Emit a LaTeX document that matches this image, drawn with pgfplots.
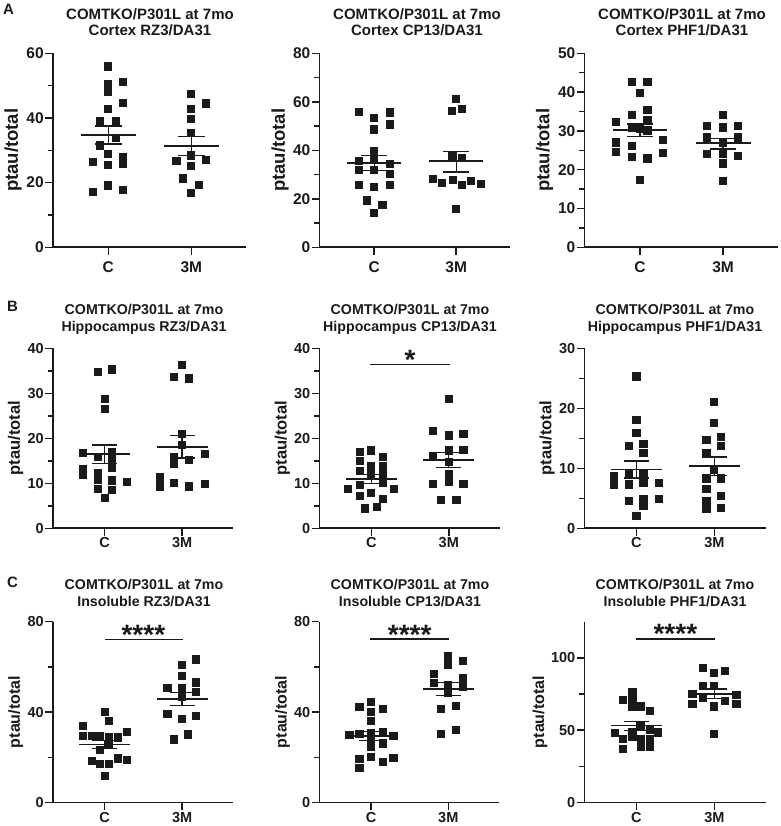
\documentclass[border=0pt]{standalone}
\usepackage{pgfplots}
\pgfplotsset{compat=1.18}
\usepackage{fontspec}
\setmainfont{Liberation Sans}
\definecolor{ink}{RGB}{26,26,26}
\pgfplotsset{
  panel/.style={
    scale only axis,
    anchor=south west,
    axis lines=left,
    axis line style={-, line width=1.6pt, ink},
    xmin=-0.67, xmax=1.66, ymin=0,
    xtick={0,1}, xticklabels={C,3M},
    tick align=outside,
    major tick length=7.5pt,
    minor tick length=5pt,
    tick style={line width=1.5pt, ink},
    /pgf/number format/assume math mode=true,
    yticklabel style={xshift=2pt},
    ylabel={ptau/total},
    clip=false,
    unbounded coords=jump,
    ylabel style={at={(axis description cs:-0.205,0.5)}, anchor=center, inner sep=0pt},
  },
  rowA/.style={panel, height=194pt,
    ticklabel style={font=\bfseries\fontsize{15.5}{17}\selectfont, text=ink},
    xticklabel style={yshift=-3pt},
    ylabel style={font=\bfseries\fontsize{18.5}{21}\selectfont, text=ink}},
  rowB/.style={panel, height=180pt,
    ticklabel style={font=\bfseries\fontsize{14.5}{16}\selectfont, text=ink},
    xticklabel style={yshift=1.5pt},
    ylabel style={font=\bfseries\fontsize{16.5}{19}\selectfont, text=ink}},
  rowC/.style={panel, height=180.8pt,
    ticklabel style={font=\bfseries\fontsize{14.5}{16}\selectfont, text=ink},
    xticklabel style={yshift=1.5pt},
    ylabel style={font=\bfseries\fontsize{16}{19}\selectfont, text=ink}},
  pts/.style={only marks, mark=square*, mark size=3.6pt, ink, mark options={fill=ink, draw=ink, line width=0pt}},
  meanl/.style={ink, line width=1.8pt, mark=none},
  seml/.style={ink, line width=1.3pt, mark=none},
  sigl/.style={ink, line width=1.5pt, mark=none},
}
\newcommand{\ttlfontA}{\bfseries\fontsize{15}{17}\selectfont}
\newcommand{\ttlfontB}{\bfseries\fontsize{14.2}{17}\selectfont}
\newcommand{\starfont}{\bfseries\fontsize{28}{28}\selectfont}
\begin{document}
\begin{tikzpicture}
\useasboundingbox (0pt,0pt) rectangle (780pt,826pt);

% ---------------- Row A ----------------
\begin{axis}[rowA, at={(52.7pt,578.7pt)}, width=193.5pt, ymax=60, ytick={0,20,40,60}, minor ytick={10,30,50}]
\addplot[pts] coordinates {(0,55.9) (0,50.5) (0.18,51.2) (0,48.0) (0.18,44.6) (0,42.7) (-0.10,39.0) (0.09,39.0) (0.09,33.8) (-0.10,31.5) (0,28.8) (0.18,28.0) (0.18,25.8) (-0.18,26.4) (0,25.5) (0,19.1) (-0.18,17.1) (0.18,17.6)};
\addplot[pts] coordinates {(1,47.3) (1.18,44.5) (1,42.7) (1,39.7) (1,35.3) (1,28.4) (0.82,26.7) (1.18,27.0) (1,25.2) (0.90,21.3) (1.09,19.3) (1,16.7)};
\addplot[meanl] coordinates {(-0.33,34.7) (0.33,34.7) (0,nan) (0.67,31.3) (1.33,31.3)};
\addplot[seml] coordinates {(0,31.9) (0,37.5) (0,nan) (-0.16,31.9) (0.16,31.9) (0,nan) (-0.16,37.5) (0.16,37.5) (0,nan) (1,28.4) (1,34.2) (0,nan) (0.84,28.4) (1.16,28.4) (0,nan) (0.84,34.2) (1.16,34.2)};
\end{axis}

\begin{axis}[rowA, at={(319.3pt,578.7pt)}, width=191pt, ymax=80, ytick={0,20,40,60,80}, minor ytick={10,30,50,70}]
\addplot[pts] coordinates {(-0.19,55.8) (0.19,55.6) (0,53.2) (0,48.6) (0.19,50.6) (0,39.6) (0,36.6) (-0.19,35.6) (0.19,34.4) (-0.19,31.8) (0,31.8) (0.19,30.1) (-0.19,25.7) (0.19,25.7) (0,24.9) (-0.09,19.3) (0.10,17.5) (0,14.1)};
\addplot[pts] coordinates {(1,61.3) (0.95,56.2) (1.07,56.9) (0.95,37.6) (1.07,36.9) (0.72,28.2) (0.83,26.5) (0.96,27.9) (1.07,25.8) (1.18,27.2) (1.30,26.1) (1,15.7)};
\addplot[meanl] coordinates {(-0.33,34.8) (0.33,34.8) (0,nan) (0.67,35.5) (1.33,35.5)};
\addplot[seml] coordinates {(0,31.8) (0,37.8) (0,nan) (-0.16,31.8) (0.16,31.8) (0,nan) (-0.16,37.8) (0.16,37.8) (0,nan) (1,31.1) (1,39.6) (0,nan) (0.84,31.1) (1.16,31.1) (0,nan) (0.84,39.6) (1.16,39.6)};
\end{axis}

\begin{axis}[rowA, at={(584.3pt,578.7pt)}, width=193.7pt, ymax=50, ytick={0,10,20,30,40,50}, minor ytick={5,15,25,35,45}]
\addplot[pts] coordinates {(-0.10,42.7) (0.09,42.5) (0,39.7) (0.09,35.4) (-0.10,34.1) (-0.29,32.2) (0.09,32.8) (-0.10,30.8) (0,30.4) (-0.29,27.0) (0.09,30.1) (0.28,27.7) (-0.10,26.2) (-0.29,24.5) (0.28,24.2) (-0.10,23.2) (0.09,22.9) (0,17.4)};
\addplot[pts] coordinates {(1,34.1) (0.81,31.3) (1,30.9) (1.18,31.3) (0.81,28.3) (1.18,28.3) (1,26.8) (0.81,24.0) (1,24.1) (1.18,23.6) (1,21.6) (1,17.1)};
\addplot[meanl] coordinates {(-0.33,30.2) (0.33,30.2) (0,nan) (0.67,26.8) (1.33,26.8)};
\addplot[seml] coordinates {(0,28.5) (0,31.8) (0,nan) (-0.16,28.5) (0.16,28.5) (0,nan) (-0.16,31.8) (0.16,31.8) (0,nan) (1,25.3) (1,28.1) (0,nan) (0.84,25.3) (1.16,25.3) (0,nan) (0.84,28.1) (1.16,28.1)};
\end{axis}

% ---------------- Row B ----------------
\begin{axis}[rowB, at={(52.7pt,297.7pt)}, width=180.6pt, ymax=40, ytick={0,10,20,30,40}, minor ytick={5,15,25,35}]
\addplot[pts] coordinates {(-0.09,34.8) (0.10,35.3) (0,28.7) (0,26.5) (-0.28,16.8) (0.10,17.0) (-0.09,15.9) (0.10,15.2) (0.10,13.5) (-0.28,13.2) (-0.28,11.9) (-0.09,12.2) (-0.09,10.7) (0.10,10.6) (0.29,10.2) (-0.09,8.7) (0.10,8.5) (0,6.8)};
\addplot[pts] coordinates {(1,36.3) (0.90,33.7) (1.09,33.3) (1,21.0) (1,18.5) (0.90,15.9) (0.90,14.2) (1.09,15.2) (1.29,16.5) (0.71,11.3) (0.71,9.3) (0.90,10.1) (1.09,9.3) (1.29,9.8)};
\addplot[meanl] coordinates {(-0.33,16.5) (0.33,16.5) (0,nan) (0.67,18.1) (1.33,18.1)};
\addplot[seml] coordinates {(0,14.4) (0,18.5) (0,nan) (-0.16,14.4) (0.16,14.4) (0,nan) (-0.16,18.5) (0.16,18.5) (0,nan) (1,15.6) (1,20.6) (0,nan) (0.84,15.6) (1.16,15.6) (0,nan) (0.84,20.6) (1.16,20.6)};
\end{axis}

\begin{axis}[rowB, at={(319.3pt,297.7pt)}, width=180.7pt, ymax=40, ytick={0,10,20,30,40}, minor ytick={5,15,25,35}]
\addplot[pts] coordinates {(-0.15,17.0) (0,17.3) (-0.15,15.0) (0.15,15.8) (0,13.9) (0.15,13.9) (-0.15,12.7) (0,12.1) (0.15,12.1) (-0.15,9.6) (0.15,10.0) (-0.30,8.7) (0.29,8.7) (0,7.8) (-0.15,7.2) (0.15,6.5) (-0.08,4.4) (0.07,4.8)};
\addplot[pts] coordinates {(1,28.7) (0.80,21.7) (1,20.6) (1.19,20.9) (1,17.3) (1.19,17.4) (0.80,16.1) (1,14.8) (1,12.1) (0.80,9.9) (1,10.2) (1.19,9.9) (0.90,6.3) (1.10,6.3)};
\addplot[meanl] coordinates {(-0.33,10.95) (0.33,10.95) (0,nan) (0.67,15.2) (1.33,15.2)};
\addplot[seml] coordinates {(0,10.0) (0,11.9) (0,nan) (-0.16,10.0) (0.16,10.0) (0,nan) (-0.16,11.9) (0.16,11.9) (0,nan) (1,13.5) (1,16.9) (0,nan) (0.84,13.5) (1.16,13.5) (0,nan) (0.84,16.9) (1.16,16.9)};
\addplot[sigl] coordinates {(-0.02,36.4) (1.01,36.4)};
\node[anchor=base, yshift=-5pt, font=\starfont, text=ink, inner sep=0pt] at (axis cs:0.5,36.4) {*};
\end{axis}

\begin{axis}[rowB, at={(584.3pt,297.7pt)}, width=181.4pt, ymax=30, ytick={0,10,20,30}, minor ytick={5,15,25}]
\addplot[pts] coordinates {(0,25.3) (0,18.0) (0,15.9) (-0.10,13.7) (0.09,14.1) (0.09,12.5) (-0.29,8.7) (-0.29,7.3) (-0.10,9.1) (-0.10,7.3) (0.09,9.2) (0.09,7.6) (0.29,7.6) (-0.10,4.6) (0.09,4.9) (0.09,3.8) (0.29,4.9) (0,2.1)};
\addplot[pts] coordinates {(1,21.0) (1,17.6) (0.90,14.7) (1.09,15.2) (1.09,13.7) (0.90,12.6) (1,9.8) (0.90,8.3) (1.09,8.3) (0.90,6.6) (0.90,4.6) (1.09,5.4) (0.90,3.3) (1.09,3.4)};
\addplot[meanl] coordinates {(-0.33,9.8) (0.33,9.8) (0,nan) (0.67,10.35) (1.33,10.35)};
\addplot[seml] coordinates {(0,8.4) (0,11.2) (0,nan) (-0.16,8.4) (0.16,8.4) (0,nan) (-0.16,11.2) (0.16,11.2) (0,nan) (1,8.85) (1,11.9) (0,nan) (0.84,8.85) (1.16,8.85) (0,nan) (0.84,11.9) (1.16,11.9)};
\end{axis}

% ---------------- Row C ----------------
\begin{axis}[rowC, at={(52.7pt,23.5pt)}, width=180.6pt, ymax=80, ytick={0,40,80}, minor ytick={20,60}]
\addplot[pts] coordinates {(0,40.1) (0.06,36.2) (-0.28,33.9) (-0.28,29.4) (-0.16,29.5) (-0.055,29.5) (0.06,28.8) (0.17,28.8) (0.285,31.3) (0.06,25.8) (-0.055,23.2) (-0.16,18.5) (0.17,19.5) (0.285,18.7) (-0.055,17.0) (0.06,17.0) (0,11.7)};
\addplot[pts] coordinates {(1.18,63.3) (1,60.8) (1,55.9) (0.81,50.5) (1,50.8) (1.18,53.1) (1.18,49.0) (1,46.8) (0.81,39.1) (1.18,38.4) (1,36.8) (1.08,30.1) (0.89,27.9)};
\addplot[meanl] coordinates {(-0.33,25.7) (0.33,25.7) (0,nan) (0.67,45.8) (1.33,45.8)};
\addplot[seml] coordinates {(0,23.9) (0,27.3) (0,nan) (-0.16,23.9) (0.16,23.9) (0,nan) (-0.16,27.3) (0.16,27.3) (0,nan) (1,42.8) (1,48.7) (0,nan) (0.84,42.8) (1.16,42.8) (0,nan) (0.84,48.7) (1.16,48.7)};
\addplot[sigl] coordinates {(0,72.2) (1.01,72.2)};
\node[anchor=base, yshift=-5pt, font=\starfont, text=ink, inner sep=0pt] at (axis cs:0.5,72.2) {****};
\end{axis}

\begin{axis}[rowC, at={(319.3pt,23.5pt)}, width=180pt, ymax=80, ytick={0,40,80}, minor ytick={20,60}]
\addplot[pts] coordinates {(0,44.6) (-0.15,42.1) (0.15,41.3) (0,39.9) (0,36.2) (-0.28,29.8) (-0.15,30.3) (0,30.6) (0.15,31.0) (0.29,29.5) (0,28.0) (0.15,26.1) (0,24.4) (-0.15,19.2) (0,20.2) (0.15,18.0) (0.29,19.8) (-0.15,15.4)};
\addplot[pts] coordinates {(1,64.8) (1,61.1) (1.185,62.6) (0.81,56.8) (1.185,54.9) (0.81,52.7) (1,52.0) (1,48.3) (1.185,51.2) (1.095,42.7) (0.905,41.3) (0.905,30.3) (1.095,32.0)};
\addplot[meanl] coordinates {(-0.33,29.5) (0.33,29.5) (0,nan) (0.67,50.2) (1.33,50.2)};
\addplot[seml] coordinates {(0,27.3) (0,31.3) (0,nan) (-0.16,27.3) (0.16,27.3) (0,nan) (-0.16,31.3) (0.16,31.3) (0,nan) (1,47.2) (1,53.1) (0,nan) (0.84,47.2) (1.16,47.2) (0,nan) (0.84,53.1) (1.16,53.1)};
\addplot[sigl] coordinates {(-0.01,72.3) (1.01,72.3)};
\node[anchor=base, yshift=-5pt, font=\starfont, text=ink, inner sep=0pt] at (axis cs:0.5,72.3) {****};
\end{axis}

\begin{axis}[rowC, at={(584.3pt,23.5pt)}, width=181.4pt, ymax=125, ytick={0,50,100}, minor ytick={25,75}, ylabel style={at={(axis description cs:-0.244,0.5)}}]
\addplot[pts] coordinates {(-0.05,76.4) (-0.17,71.1) (-0.05,71.8) (-0.05,66.4) (0.055,66.4) (0.175,63.4) (0.055,52.5) (-0.28,47.9) (-0.05,48.6) (0.175,50.2) (0.28,48.4) (-0.17,43.8) (-0.05,45.1) (0.055,43.8) (0.175,43.8) (-0.17,36.8) (0.055,38.7) (0.175,38.7)};
\addplot[pts] coordinates {(0.85,93.1) (1,89.6) (1.14,90.7) (0.85,80.3) (1,80.3) (0.72,75.2) (1.285,74.1) (0.72,68.3) (0.85,72.2) (1,66.4) (1.14,69.9) (1.285,68.3) (1,47.5)};
\addplot[meanl] coordinates {(-0.33,53.2) (0.33,53.2) (0,nan) (0.67,75.0) (1.33,75.0)};
\addplot[seml] coordinates {(0,50.0) (0,56.0) (0,nan) (-0.16,50.0) (0.16,50.0) (0,nan) (-0.16,56.0) (0.16,56.0) (0,nan) (1,71.8) (1,78.5) (0,nan) (0.84,71.8) (1.16,71.8) (0,nan) (0.84,78.5) (1.16,78.5)};
\addplot[sigl] coordinates {(0,113.2) (1.01,113.2)};
\node[anchor=base, yshift=-5pt, font=\starfont, text=ink, inner sep=0pt] at (axis cs:0.5,113.2) {****};
\end{axis}

% ---------------- Titles and panel letters ----------------
\begin{scope}[every node/.style={anchor=base, text=ink, inner sep=0pt}]
\node[font=\ttlfontA] at (150pt,806.7pt) {COMTKO/P301L at 7mo};
\node[font=\ttlfontA] at (150pt,790.3pt) {Cortex RZ3/DA31};
\node[font=\ttlfontA] at (417pt,806.7pt) {COMTKO/P301L at 7mo};
\node[font=\ttlfontA] at (417pt,790.3pt) {Cortex CP13/DA31};
\node[font=\ttlfontA] at (682pt,806.7pt) {COMTKO/P301L at 7mo};
\node[font=\ttlfontA] at (682pt,790.3pt) {Cortex PHF1/DA31};
\node[font=\ttlfontB] at (144pt,511.7pt) {COMTKO/P301L at 7mo};
\node[font=\ttlfontB] at (144pt,494.3pt) {Hippocampus RZ3/DA31};
\node[font=\ttlfontB] at (410pt,511.7pt) {COMTKO/P301L at 7mo};
\node[font=\ttlfontB] at (410pt,494.3pt) {Hippocampus CP13/DA31};
\node[font=\ttlfontB] at (675pt,511.7pt) {COMTKO/P301L at 7mo};
\node[font=\ttlfontB] at (675pt,494.3pt) {Hippocampus PHF1/DA31};
\node[font=\ttlfontB] at (144pt,236.7pt) {COMTKO/P301L at 7mo};
\node[font=\ttlfontB] at (144pt,219.3pt) {Insoluble RZ3/DA31};
\node[font=\ttlfontB] at (410pt,236.7pt) {COMTKO/P301L at 7mo};
\node[font=\ttlfontB] at (410pt,219.3pt) {Insoluble CP13/DA31};
\node[font=\ttlfontB] at (675pt,236.7pt) {COMTKO/P301L at 7mo};
\node[font=\ttlfontB] at (675pt,219.3pt) {Insoluble PHF1/DA31};
\node[font=\ttlfontA, anchor=base west] at (3pt,811pt) {A};
\node[font=\ttlfontA, anchor=base west] at (7pt,514.3pt) {B};
\node[font=\ttlfontA, anchor=base west] at (7pt,238pt) {C};
\end{scope}
\end{tikzpicture}
\end{document}
